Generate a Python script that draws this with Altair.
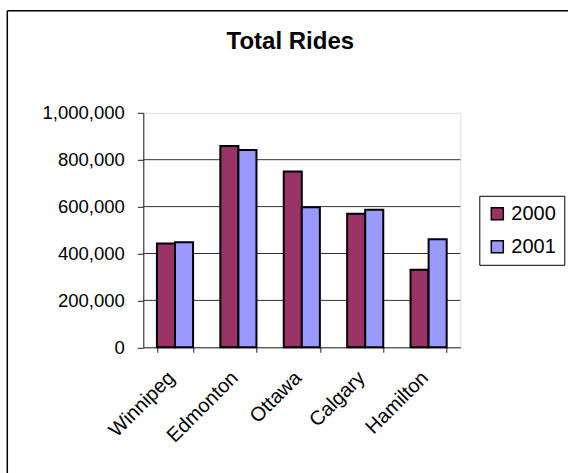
import altair as alt
import pandas as pd

# Ridership by city for two years
cities = ["Winnipeg", "Edmonton", "Ottawa", "Calgary", "Hamilton"]
rides_2000 = [443000, 858000, 750000, 570000, 331000]
rides_2001 = [448000, 841000, 597000, 587000, 461000]
years = ["2000", "2001"]
year_colors = ["#993366", "#9999FF"]
y_ticks = [0, 200000, 400000, 600000, 800000, 1000000]
grid_values = [200000, 400000, 600000, 800000]

rows = []
for city, a, b in zip(cities, rides_2000, rides_2001):
    rows.append({"city": city, "year": years[0], "rides": a})
    rows.append({"city": city, "year": years[1], "rides": b})
df = pd.DataFrame(rows)
grid_df = pd.DataFrame({"v": grid_values})

FONT = "Liberation Sans"
W, H = 317, 234.5

y_scale = alt.Scale(domain=[0, 1000000], nice=False, zero=True)

bars = alt.Chart(df).mark_bar(stroke="black", strokeWidth=2, clip=False).encode(
    x=alt.X(
        "city:N",
        sort=cities,
        scale=alt.Scale(paddingInner=0.43, paddingOuter=0.215),
        axis=alt.Axis(
            title=None,
            labelAngle=-45,
            labelAlign="right",
            labelBaseline="top",
            labelFontSize=20,
            labelFont=FONT,
            labelColor="black",
            labelPadding=15,
            labelOffset=-11,
            tickBand="extent",
            tickSize=5,
            tickColor="#222",
            domainColor="#222",
            grid=False,
        ),
    ),
    xOffset=alt.XOffset("year:N", scale=alt.Scale(paddingInner=0, paddingOuter=0)),
    y=alt.Y(
        "rides:Q",
        scale=y_scale,
        axis=alt.Axis(
            title=None,
            values=y_ticks,
            format=",d",
            labelFontSize=18.5,
            labelFont=FONT,
            labelColor="black",
            labelPadding=13,
            tickSize=6,
            tickColor="#222",
            domainColor="#222",
            grid=False,
        ),
    ),
    fill=alt.Fill(
        "year:N",
        scale=alt.Scale(domain=years, range=year_colors),
        legend=alt.Legend(
            title=None,
            orient="none",
            legendX=336,
            legendY=83,
            padding=8,
            strokeColor="black",
            fillColor="white",
            symbolType="square",
            symbolSize=144,
            symbolStrokeColor="black",
            symbolStrokeWidth=1.5,
            labelFontSize=20,
            labelFont=FONT,
            labelColor="black",
            labelOffset=4,
            rowPadding=13,
        ),
    ),
)

grid = alt.Chart(grid_df).mark_rule(color="#333", strokeWidth=1).encode(
    y=alt.Y("v:Q", scale=y_scale),
    x=alt.value(0),
    x2=alt.value(W),
)

title = alt.Chart(pd.DataFrame({"t": ["Total Rides"]})).mark_text(
    font=FONT, fontSize=24, fontWeight="bold", color="black",
    align="center", baseline="alphabetic",
).encode(text="t:N", x=alt.value(147), y=alt.value(-64))

# outer frame lines (top and left edges of the chart box)
frame_left = alt.Chart(pd.DataFrame({"a": [0]})).mark_rule(color="black", strokeWidth=1.5).encode(
    x=alt.value(-136), y=alt.value(-102), y2=alt.value(400)
)
frame_top = alt.Chart(pd.DataFrame({"a": [0]})).mark_rule(color="black", strokeWidth=1.5).encode(
    x=alt.value(-136), x2=alt.value(440), y=alt.value(-102)
)

chart = (
    alt.layer(grid, bars, title, frame_left, frame_top)
    .properties(
        width=W,
        height=H,
        autosize=alt.AutoSizeParams(type="none"),
        padding={"left": 143.3, "top": 112.8, "right": 568 - 143.3 - W, "bottom": 473 - 112.8 - H},
    )
    .configure_view(stroke=None)
    .configure(background="white")
)

chart.save("out.html", embed_options={"renderer": "svg", "actions": False})
